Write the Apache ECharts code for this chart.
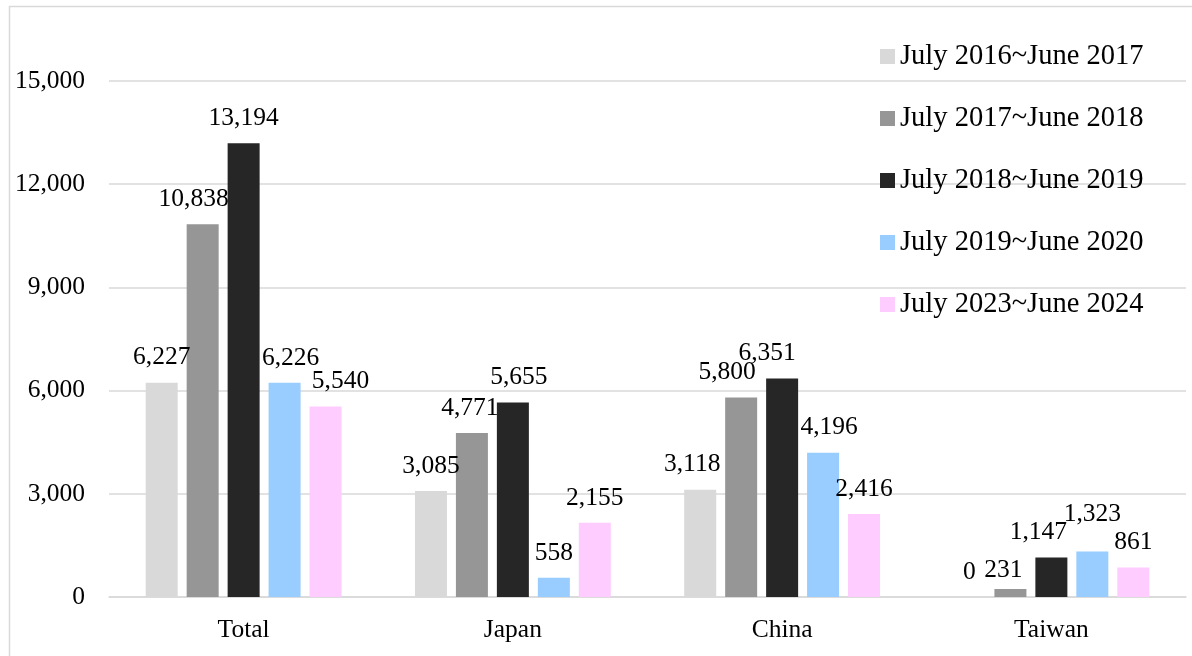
<!DOCTYPE html>
<html>
<head>
<meta charset="utf-8">
<script src="https://cdn.jsdelivr.net/npm/echarts@6/dist/echarts.min.js"></script>
<style>
  html, body { margin: 0; padding: 0; background: #ffffff; }
  #chart { width: 1192px; height: 656px; }
</style>
</head>
<body>
<div id="chart"></div>
<script>
// Regions shown along the x axis
const categories = ['Total', 'Japan', 'China', 'Taiwan'];

// One series per fiscal period
const periodNames = [
  'July 2016~June 2017',
  'July 2017~June 2018',
  'July 2018~June 2019',
  'July 2019~June 2020',
  'July 2023~June 2024'
];
const fy2016 = [6227, 3085, 3118, 0];
const fy2017 = [10838, 4771, 5800, 231];
const fy2018 = [13194, 5655, 6351, 1147];
const fy2019 = [6226, 558, 4196, 1323];
const fy2023 = [5540, 2155, 2416, 861];

// Y axis ticks
const yTicks = [0, 3000, 6000, 9000, 12000, 15000];

// Styling
const periodColors = ['#d9d9d9', '#969696', '#262626', '#99ccff', '#ffccff'];
const FONT = '"Liberation Serif", "Times New Roman", serif';
// Small label shifts [dx, dy] per series and category so neighbouring labels don't collide
const labelShift = [
  [[0, 0], [0, 0], [-8, 0], [0, 0]],
  [[-9, 0], [-2, 0], [-14, 0], [-7, 6]],
  [[0, 0], [6, 0], [-15, 0], [-13, 0]],
  [[6, 0], [0, 0], [6, 0], [0, -12]],
  [[15, 0], [0, 0], [0, 0], [0, 0]]
];

const seriesValues = [fy2016, fy2017, fy2018, fy2019, fy2023];
const fmt = v => v.toLocaleString('en-US');

const series = seriesValues.map((vals, si) => ({
  name: periodNames[si],
  type: 'bar',
  barWidth: 32,
  barGap: '28%',
  itemStyle: { color: periodColors[si] },
  label: {
    show: true,
    position: 'top',
    distance: 12,
    color: '#000',
    fontFamily: FONT,
    fontSize: 25.5,
    formatter: p => fmt(p.value)
  },
  data: vals.map((v, ci) => ({
    value: v,
    label: { offset: labelShift[si][ci] }
  }))
}));

const chart = echarts.init(document.getElementById('chart'), null, { renderer: 'canvas' });
chart.setOption({
  animation: false,
  backgroundColor: '#ffffff',
  graphic: [{
    type: 'rect',
    shape: { x: 9.5, y: 6.5, width: 1300, height: 800 },
    style: { fill: 'none', stroke: '#d9d9d9', lineWidth: 1.5 },
    silent: true,
    z: -10
  }],
  grid: { left: 109, right: 6, top: 81, bottom: 59, containLabel: false },
  legend: {
    orient: 'vertical',
    left: 875,
    top: 37,
    icon: 'rect',
    itemWidth: 15,
    itemHeight: 15,
    itemGap: 33,
    textStyle: { fontFamily: FONT, fontSize: 28.5, lineHeight: 28, color: '#000' },
    data: periodNames
  },
  xAxis: {
    type: 'category',
    data: categories,
    axisTick: { show: false },
    axisLine: { lineStyle: { color: '#d9d9d9', width: 1.5 } },
    axisLabel: { fontFamily: FONT, fontSize: 25.5, color: '#000', margin: 20 }
  },
  yAxis: {
    type: 'value',
    min: yTicks[0],
    max: yTicks[yTicks.length - 1],
    interval: yTicks[1] - yTicks[0],
    axisLine: { show: false },
    axisTick: { show: false },
    splitLine: { lineStyle: { color: '#d9d9d9', width: 1.5 } },
    axisLabel: {
      fontFamily: FONT, fontSize: 25.5, color: '#000', margin: 24,
      formatter: v => fmt(v)
    }
  },
  series: series
});
</script>
</body>
</html>
